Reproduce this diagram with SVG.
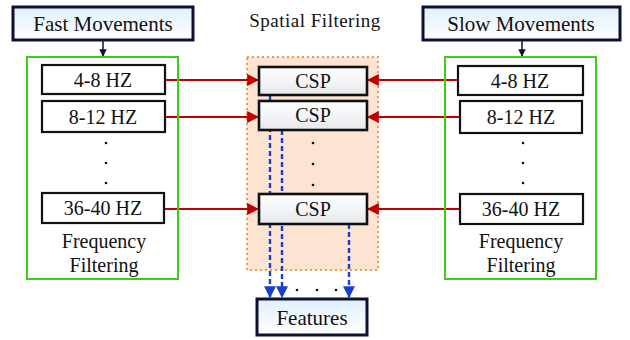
<svg xmlns="http://www.w3.org/2000/svg" width="630" height="340" viewBox="0 0 630 340">
<style>
text{fill:#111;text-anchor:middle}
.hz{fill:#fff;stroke:#111;stroke-width:2.2}
.csp{fill:url(#gw);stroke:#111;stroke-width:2.6}
.hdr{fill:url(#gb);stroke:#0d1030;stroke-width:3}
.grn{fill:none;stroke:#3ccc1a;stroke-width:2}
.red{stroke:#c00000;stroke-width:2.2;fill:none}
.blu{stroke:#1a3fcc;stroke-width:2.4;stroke-dasharray:5 3;fill:none}
</style>
<defs>
<linearGradient id="gb" x1="0" y1="0" x2="0" y2="1"><stop offset="0" stop-color="#dff0fb"/><stop offset="1" stop-color="#ffffff"/></linearGradient>
<linearGradient id="gw" x1="0" y1="0" x2="0" y2="1"><stop offset="0" stop-color="#ffffff"/><stop offset="1" stop-color="#e6e9ec"/></linearGradient>
<marker id="ar" viewBox="0 0 10 10" refX="9" refY="5" markerWidth="5.5" markerHeight="5.5" orient="auto"><path d="M0,0L10,5L0,10z" fill="#c00000"/></marker>
<marker id="ab" viewBox="0 0 10 10" refX="9" refY="5" markerWidth="5" markerHeight="5" orient="auto"><path d="M0,0L10,5L0,10z" fill="#1a3fcc"/></marker>
<marker id="ak" viewBox="0 0 10 10" refX="9" refY="5" markerWidth="5" markerHeight="5" orient="auto"><path d="M0,0L10,5L0,10z" fill="#0d1030"/></marker>
</defs>

<g id="spatial-region">
<rect x="247" y="57" width="131" height="213" fill="#fce3d2" stroke="#f79646" stroke-width="2" stroke-dasharray="2 3"/>
<text x="315" y="27" font-family="Liberation Serif" font-size="19" letter-spacing="0.5">Spatial Filtering</text>
</g>

<g id="connectors">
<line x1="103" y1="40" x2="103" y2="56" stroke="#0d1030" stroke-width="1.5" marker-end="url(#ak)"/>
<line x1="522" y1="40" x2="522" y2="56" stroke="#0d1030" stroke-width="1.5" marker-end="url(#ak)"/>
<line class="red" x1="165" y1="80" x2="258" y2="80" marker-end="url(#ar)"/>
<line class="red" x1="165" y1="117" x2="258" y2="117" marker-end="url(#ar)"/>
<line class="red" x1="164" y1="209" x2="258" y2="209" marker-end="url(#ar)"/>
<line class="red" x1="458" y1="80" x2="368" y2="80" marker-end="url(#ar)"/>
<line class="red" x1="460" y1="117" x2="368" y2="117" marker-end="url(#ar)"/>
<line class="red" x1="460" y1="209" x2="368" y2="209" marker-end="url(#ar)"/>
<line class="blu" x1="270" y1="95" x2="270" y2="297" marker-end="url(#ab)"/>
<line class="blu" x1="282" y1="130" x2="282" y2="297" marker-end="url(#ab)"/>
<line class="blu" x1="349" y1="224" x2="349" y2="297" marker-end="url(#ab)"/>
</g>

<g id="fast-movements">
<rect class="hdr" x="13" y="7" width="180" height="33"/>
<text x="103" y="31" font-family="Liberation Serif" font-size="21">Fast Movements</text>
</g>

<g id="slow-movements">
<rect class="hdr" x="423" y="7" width="197" height="33"/>
<text x="521" y="31" font-family="Liberation Serif" font-size="21">Slow Movements</text>
</g>

<g id="left-frequency-filtering">
<rect class="grn" x="27" y="57" width="151" height="222"/>
<rect class="hz" x="42" y="65" width="123" height="29"/>
<text x="103" y="87" font-family="Liberation Serif" font-size="20">4-8 HZ</text>
<rect class="hz" x="42" y="101" width="123" height="31"/>
<text x="103" y="124" font-family="Liberation Serif" font-size="20">8-12 HZ</text>
<circle cx="106" cy="143" r="1.3" fill="#111"/>
<circle cx="106" cy="163" r="1.3" fill="#111"/>
<circle cx="106" cy="183" r="1.3" fill="#111"/>
<rect class="hz" x="42" y="193" width="122" height="30"/>
<text x="103" y="215" font-family="Liberation Serif" font-size="20">36-40 HZ</text>
<text x="104" y="248" font-family="Liberation Serif" font-size="20">Frequency</text>
<text x="104" y="272" font-family="Liberation Serif" font-size="20">Filtering</text>
</g>

<g id="right-frequency-filtering">
<rect class="grn" x="445" y="57" width="151" height="222"/>
<rect class="hz" x="458" y="66" width="125" height="29"/>
<text x="520" y="88" font-family="Liberation Serif" font-size="20">4-8 HZ</text>
<rect class="hz" x="460" y="101" width="122" height="32"/>
<text x="521" y="124" font-family="Liberation Serif" font-size="20">8-12 HZ</text>
<circle cx="523" cy="143" r="1.3" fill="#111"/>
<circle cx="523" cy="163" r="1.3" fill="#111"/>
<circle cx="523" cy="183" r="1.3" fill="#111"/>
<rect class="hz" x="460" y="194" width="123" height="30"/>
<text x="521" y="216" font-family="Liberation Serif" font-size="20">36-40 HZ</text>
<text x="521" y="248" font-family="Liberation Serif" font-size="20">Frequency</text>
<text x="521" y="272" font-family="Liberation Serif" font-size="20">Filtering</text>
</g>

<g id="csp-1">
<rect class="csp" x="259" y="67" width="108" height="28"/>
<text x="313" y="88" font-family="Liberation Serif" font-size="20">CSP</text>
</g>
<g id="csp-2">
<rect class="csp" x="259" y="101" width="108" height="29"/>
<text x="313" y="122" font-family="Liberation Serif" font-size="20">CSP</text>
</g>
<g id="csp-dots">
<circle cx="313" cy="143" r="1.3" fill="#111"/>
<circle cx="313" cy="164" r="1.3" fill="#111"/>
<circle cx="313" cy="185" r="1.3" fill="#111"/>
</g>
<g id="csp-3">
<rect class="csp" x="259" y="194" width="108" height="30"/>
<text x="313" y="216" font-family="Liberation Serif" font-size="20">CSP</text>
</g>

<g id="feature-dots">
<circle cx="297" cy="290" r="1.3" fill="#111"/>
<circle cx="317" cy="290" r="1.3" fill="#111"/>
<circle cx="336" cy="290" r="1.3" fill="#111"/>
</g>

<g id="features">
<rect class="hdr" x="257" y="299" width="110" height="36" stroke-width="2.6"/>
<text x="312" y="325" font-family="Liberation Serif" font-size="21">Features</text>
</g>
</svg>
